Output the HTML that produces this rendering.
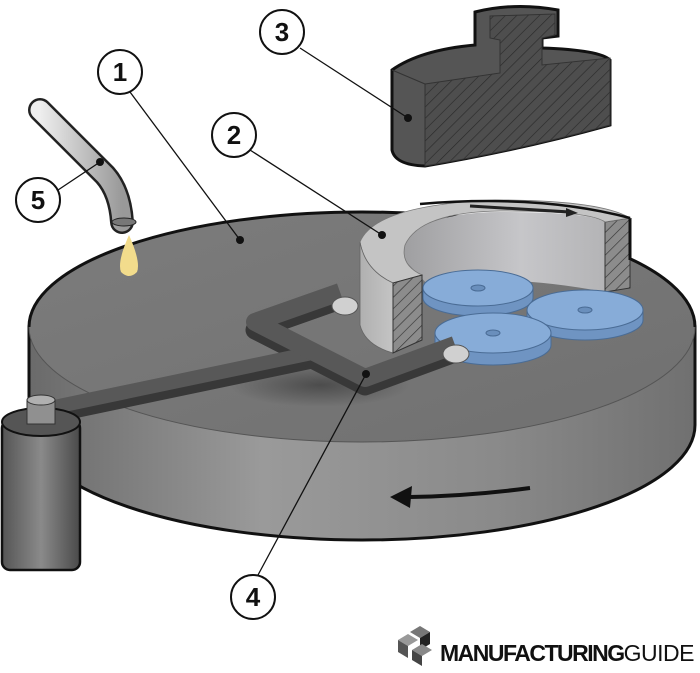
<!DOCTYPE html>
<html><head><style>body{margin:0;background:#fff}svg{display:block}</style></head><body>
<svg width="700" height="673" viewBox="0 0 700 673" xmlns="http://www.w3.org/2000/svg">
<defs>
<linearGradient id="side" x1="0" x2="1" y1="0" y2="0"><stop offset="0" stop-color="#6a6a6a"/><stop offset=".35" stop-color="#9a9a9a"/><stop offset=".7" stop-color="#8a8a8a"/><stop offset="1" stop-color="#707070"/></linearGradient>
<linearGradient id="top" x1="0" x2="1" y1="0" y2="1"><stop offset="0" stop-color="#7c7c7c"/><stop offset="1" stop-color="#707070"/></linearGradient>
<pattern id="hatch" width="8" height="8" patternUnits="userSpaceOnUse" patternTransform="rotate(45)"><rect width="8" height="8" fill="#8c8c8c"/><line x1="0" y1="0" x2="0" y2="8" stroke="#333" stroke-width="1.3"/></pattern>
<pattern id="hatch2" width="8" height="8" patternUnits="userSpaceOnUse" patternTransform="rotate(45)"><rect width="8" height="8" fill="#4e4e4e"/><line x1="0" y1="0" x2="0" y2="8" stroke="#2a2a2a" stroke-width="1.3"/></pattern>
<linearGradient id="ring" x1="0" x2="1"><stop offset="0" stop-color="#b0b0b0"/><stop offset="1" stop-color="#c4c4c4"/></linearGradient>
<linearGradient id="inner" x1="0" x2="1"><stop offset="0" stop-color="#9c9c9e"/><stop offset=".6" stop-color="#c6c6c9"/><stop offset="1" stop-color="#b4b4b6"/></linearGradient>
<linearGradient id="cyl" x1="0" x2="1"><stop offset="0" stop-color="#555"/><stop offset=".5" stop-color="#8a8a8a"/><stop offset="1" stop-color="#4a4a4a"/></linearGradient>
<linearGradient id="tube" x1="0" x2="1"><stop offset="0" stop-color="#eee"/><stop offset="1" stop-color="#999"/></linearGradient>
<radialGradient id="shadow" cx=".5" cy=".5" r=".5"><stop offset="0" stop-color="#000" stop-opacity=".35"/><stop offset="1" stop-color="#000" stop-opacity="0"/></radialGradient>
</defs>
<!-- disc -->
<path d="M29,327 L29,425 A333,115 0 0 0 695,425 L695,327 Z" fill="url(#side)" stroke="#111" stroke-width="3"/>
<ellipse cx="362" cy="327" rx="333" ry="115" fill="url(#top)" stroke="#555" stroke-width="1"/>
<path d="M29,327 A333,115 0 0 1 695,327" fill="none" stroke="#111" stroke-width="3"/>
<ellipse cx="320" cy="385" rx="90" ry="22" fill="url(#shadow)"/>
<!-- arrow on side -->
<path d="M530,488 Q470,496 410,497" fill="none" stroke="#111" stroke-width="4"/>
<polygon points="390,497 412,486 410,508" fill="#111"/>
<!-- ring -->
<path d="M395,250 Q420,212 500,212 Q590,212 605,222 L605,292 Q500,272 430,287 Z" fill="url(#inner)"/>
<path d="M605,222 L630,218 L630,288 L605,292 Z" fill="url(#hatch)" stroke="#333"/>
<path d="M630,218 L630,260" stroke="#111" stroke-width="3"/>
<!-- blue discs -->
<g stroke="#4a6c95" stroke-width="1">
<path d="M423,288 v10 a55,18 0 0 0 110,0 v-10 Z" fill="#6f94c2"/><ellipse cx="478" cy="288" rx="55" ry="18" fill="#87acd8"/><ellipse cx="478" cy="288" rx="7" ry="3" fill="#6a8fbc"/>
<path d="M527,310 v10 a58,20 0 0 0 116,0 v-10 Z" fill="#6f94c2"/><ellipse cx="585" cy="310" rx="58" ry="20" fill="#87acd8"/><ellipse cx="585" cy="310" rx="7" ry="3" fill="#6a8fbc"/>
<path d="M435,333 v12 a58,20 0 0 0 116,0 v-12 Z" fill="#6f94c2"/><ellipse cx="493" cy="333" rx="58" ry="20" fill="#87acd8"/><ellipse cx="493" cy="333" rx="7" ry="3" fill="#6a8fbc"/>
</g>
<path d="M360,242 Q375,205 495,200 Q600,200 630,218 L605,222 Q590,211 500,211 Q420,212 405,245 Q400,265 422,275 L393,283 Q365,270 360,242 Z" fill="#c4c4c4" stroke="#777" stroke-width=".8"/>
<path d="M360,242 Q365,270 393,283 L393,353 Q365,345 360,325 Z" fill="url(#ring)" stroke="#666" stroke-width=".8"/>
<path d="M393,283 L422,275 L422,340 L393,353 Z" fill="url(#hatch)" stroke="#333"/>
<path d="M420,204 Q540,194 630,218" fill="none" stroke="#111" stroke-width="2.5"/>
<path d="M470,206 L570,212" stroke="#222" stroke-width="3"/><polygon points="578,213 566,208 566,217" fill="#222"/>
<!-- arm -->
<g fill="none" stroke-linejoin="round" stroke-linecap="butt">
<polyline points="40,418 312,361" stroke="#383838" stroke-width="15"/>
<polyline points="340,300 255,330 365,386 455,353" stroke="#383838" stroke-width="19"/>
<polyline points="40,410 312,353" stroke="#585858" stroke-width="14"/>
<polyline points="340,292 255,322 365,378 455,345" stroke="#585858" stroke-width="18"/>
</g>
<ellipse cx="345" cy="306" rx="13" ry="9" fill="#d0d0d0" stroke="#555"/>
<ellipse cx="456" cy="354" rx="13" ry="9" fill="#d0d0d0" stroke="#555"/>
<!-- cylinder -->
<rect x="2" y="420" width="78" height="150" rx="8" fill="url(#cyl)" stroke="#111" stroke-width="2.5"/>
<ellipse cx="41" cy="422" rx="39" ry="14" fill="#555" stroke="#111" stroke-width="2"/>
<rect x="27" y="400" width="28" height="24" fill="#909090" stroke="#333"/>
<ellipse cx="41" cy="400" rx="14" ry="5" fill="#b0b0b0" stroke="#333"/>
<!-- part 3 -->
<path d="M392,70 Q420,50 475,45 L475,12 Q515,2 558,10 L558,36 L542,38 L542,48 Q600,50 610,60 L610,125 Q520,150 425,166 Q395,165 392,150 Z" fill="#555" stroke="#111" stroke-width="3"/>
<path d="M425,84 L500,73 L500,40 L490,38 L490,16 L555,14 L555,35 L542,38 L542,65 L610,58 L610,125 Q520,150 425,166 Z" fill="url(#hatch2)" stroke="#333" stroke-width="1"/>
<path d="M392,70 L425,84 L425,166" fill="none" stroke="#333"/>
<!-- tube -->
<path d="M40,110 L105,175 Q120,192 122,222" fill="none" stroke="#222" stroke-width="24" stroke-linecap="round"/>
<path d="M40,110 L105,175 Q120,192 122,222" fill="none" stroke="url(#tube)" stroke-width="19" stroke-linecap="round"/>
<ellipse cx="124" cy="222" rx="12" ry="4" fill="#777" stroke="#222"/>
<path d="M129,235 Q117,262 121,272 Q129,280 137,272 Q141,262 129,235 Z" fill="#f2dc8c"/>
<!-- leader lines -->
<g stroke="#111" stroke-width="1.3">
<line x1="130" y1="92" x2="240" y2="240"/><line x1="250" y1="150" x2="382" y2="235"/>
<line x1="300" y1="48" x2="408" y2="118"/><line x1="258" y1="575" x2="366" y2="374"/>
<line x1="58" y1="190" x2="100" y2="162"/>
</g>
<g fill="#111"><circle cx="240" cy="240" r="4"/><circle cx="382" cy="235" r="4"/><circle cx="408" cy="118" r="4"/><circle cx="366" cy="374" r="4"/><circle cx="100" cy="162" r="4"/></g>
<g fill="#fff" stroke="#111" stroke-width="2">
<circle cx="120" cy="72" r="22"/><circle cx="234" cy="135" r="22"/><circle cx="282" cy="32" r="22"/><circle cx="253" cy="597" r="22"/><circle cx="38" cy="200" r="22"/>
</g>
<g fill="#111" font-family="Liberation Sans" font-size="26" font-weight="bold" text-anchor="middle">
<text x="120" y="81">1</text><text x="234" y="144">2</text><text x="282" y="41">3</text><text x="253" y="606">4</text><text x="38" y="209">5</text>
</g>
<!-- logo -->
<g><polygon points="398,640 408,634 418,640 408,646" fill="#999"/><polygon points="398,640 408,646 408,658 398,652" fill="#555"/><polygon points="410,632 420,626 430,632 420,638" fill="#777"/><polygon points="420,638 430,632 430,644 420,650" fill="#222"/><polygon points="412,650 422,644 432,650 422,656" fill="#888"/><polygon points="412,650 422,656 422,666 412,660" fill="#444"/></g>
<text x="440" y="661" font-family="Liberation Sans" font-size="23" font-weight="bold" fill="#111" letter-spacing="-1.5">MANUFACTURING<tspan font-weight="normal" letter-spacing="-0.5">GUIDE</tspan></text>
</svg>
</body></html>
